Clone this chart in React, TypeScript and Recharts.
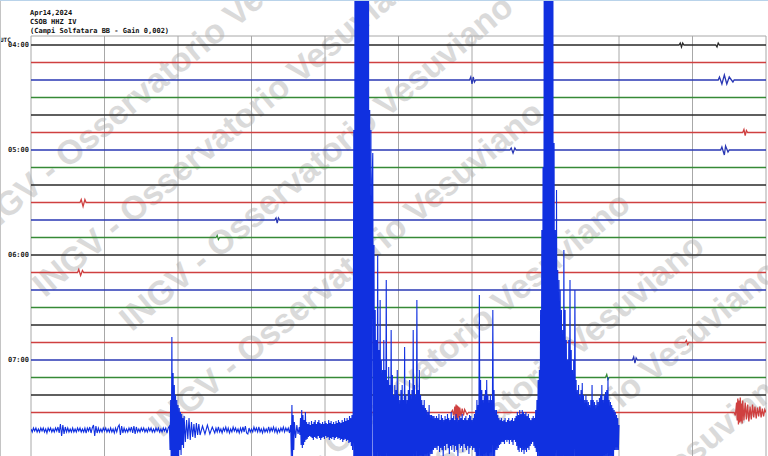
import React from 'react';
import { LineChart, Line, XAxis, YAxis, ReferenceLine } from 'recharts';

// helicorder: 23 rows of 10 minutes, starting 04:00 UTC
const hourLabels = ['04:00', '05:00', '06:00', '07:00'];
const hourTicks = [0, 60, 120, 180];
const rowColors = ['#2a2a2a', '#cf4040', '#2a38b4', '#368a36'];
const lastRowColor = '#1030e0';
const rowCount = 23;
const rowLength = 600; // seconds per row
const gridSeconds = [0, 60, 120, 180, 240, 300, 360, 420, 480, 540, 600];

// small wiggles on the quiet rows: [row, second, amplitude]
const quietBursts: [number, number, number][] = [
  [0, 529, 0], [0, 530, 2], [0, 531, -2], [0, 532, 2], [0, 533, 0],
  [0, 559, 0], [0, 560, -2], [0, 561, 2], [0, 562, 0],
  [2, 358, 0], [2, 359, 3], [2, 360, -4], [2, 361, 3], [2, 362, -2], [2, 363, 0],
  [2, 561, 0], [2, 562, 3], [2, 564, -4], [2, 566, 5], [2, 568, -4], [2, 570, 3], [2, 573, -2], [2, 574, 0],
  [5, 581, 0], [5, 582, 3], [5, 583, -3], [5, 584, 2], [5, 585, 0],
  [6, 391, 0], [6, 392, 2], [6, 393.5, -3], [6, 395, 2], [6, 396, 0],
  [6, 563, 0], [6, 564, 3], [6, 566, -5], [6, 567, 4], [6, 569, -2], [6, 570, 0],
  [9, 40, 0], [9, 41, 3], [9, 42.5, -4], [9, 44, 3], [9, 45, 0],
  [10, 199, 0], [10, 200, 2], [10, 201, -3], [10, 202, 2], [10, 203, 0],
  [11, 151, 0], [11, 152, 2], [11, 153, -2], [11, 154, 0],
  [13, 38, 0], [13, 39, 3], [13, 40.5, -3], [13, 42, 2], [13, 43, 0],
  [17, 534, 0], [17, 535, 2], [17, 536, -2], [17, 537, 0],
  [18, 491, 0], [18, 492, 3], [18, 493, -3], [18, 494, 2], [18, 495, 0],
  [19, 469, 0], [19, 470, 3], [19, 471, -2], [19, 472, 0],
  [21, 343, 0], [21, 344, 2], [21, 345, -3], [21, 346, 6], [21, 346.5, -7], [21, 347, 8], [21, 347.5, -6],
  [21, 348, 7], [21, 348.5, -8], [21, 349, 6], [21, 349.5, -5], [21, 350, 5], [21, 351, -4],
  [21, 352, 4], [21, 353, -3], [21, 354, 3], [21, 356, -2], [21, 357, 0],
  [21, 574, 0], [21, 575, -3], [21, 576, 10], [21, 576.5, -8], [21, 577, 14], [21, 577.5, -12], [21, 578, 12],
  [21, 578.5, -10], [21, 579, 15], [21, 579.5, -9], [21, 580, 9], [21, 580.5, -11], [21, 581, 12],
  [21, 582, -8], [21, 583, 10], [21, 584, -7], [21, 585, 8], [21, 586, -9], [21, 587, 6],
  [21, 588, -7], [21, 589, 8], [21, 590, -5], [21, 591, 6], [21, 592, -6], [21, 593, 5],
  [21, 594, -4], [21, 595, 6], [21, 596, -5], [21, 597, 4], [21, 598, -4], [21, 599, 3],
];

// last row (07:40): single readings [second, amplitude]
const lastRowPoints: [number, number][] = [
  [113, 4], [113.5, -20], [114, 30], [114.5, -40], [115, 93], [115.5, -40], [116, 57], [116.5, -40],
  [117, 45], [117.5, -40], [118, 35], [118.5, -40], [119, 30], [119.5, -30], [120, 25], [120.5, -35],
  [121, 22], [121.5, -20], [122, 18], [122.5, -25], [123, 16], [123.5, -15], [124, 12], [124.5, -18],
  [125, 14], [126, -12], [127, 10], [128, -9], [129, 12], [130, -10], [131, 8], [132, -7], [133, 6],
  [134, -8], [135, 7], [136, -5], [137, 6], [138, -5], [140, 4], [142, -4], [144, 5], [146, -4],
  [148, 3],
  [212, 5], [212.5, -26], [213, 25], [213.5, -26], [214, 15], [214.5, -20], [215, 8], [216, -8],
  [217, 5], [218, -4],
  [263.5, 300], [264, -600], [264.5, 600], [265, -600], [265.5, 600], [266, -600], [266.5, 600],
  [267, -600], [267.5, 600], [268, -600], [268.5, 600], [269, -600], [269.5, 600], [270, -600],
  [270.5, 600], [271, -600], [271.5, 600], [272, -600], [272.5, 600], [273, -600], [273.5, 600],
  [274, -600], [274.5, 600], [275, -600], [275.5, 600], [276, -600], [276.5, 320], [277, -600],
  [277.5, 300], [278, -200], [278.5, 250],
  [414, 50], [414.5, -30], [415, 60], [415.5, -40], [416, 120], [416.5, -60], [417, 200],
  [417.5, -100], [418, 263], [418.5, -200], [419, 600], [419.5, -600], [420, 600], [420.5, -600],
  [421, 600], [421.5, -600], [422, 600], [422.5, -600], [423, 600], [423.5, -600], [424, 600],
  [424.5, -600], [425, 600], [425.5, -600], [426, 600], [426.5, -600],
];

// last row, densely sampled stretches: start second, sample step, amplitudes
const lastRowStretches = [
  {
    t0: 0, dt: 1,
    amps: [
      1, -2, 2, -1, 2, -2, 1, -2, 2, -1, 2, -2, 1, -3, 2, -1, 2, -2, 1, -2,
      2, -1, 3, -3, 6, -6, 5, -4, 3, -2, 2, -2, 1, -2, 2, -2, 1, -2, 2, -1,
      2, -2, 1, -2, 2, -3, 2, -1, 3, -3, 2, 5, -6, 4, -3, 2, -2, 1, -2, 2,
      -1, 2, -2, 1, -2, 2, -2, 1, -3, 2, -2, 3, 5, -5, 4, -3, 2, -2, 1, -2,
      2, -1, 3, -3, 4, -4, 3, -2, 1, -2, 2, -1, 2, -2, 1, -2, 2, -1, 2, -2,
      1, -2, 2, -1, 2, -2, 1, -2, 2, -1, 2, -3, 2,
    ],
  },
  {
    t0: 150, dt: 1,
    amps: [
      -3, 2, -2, 3, -2, 1, -3, 2, -1, 3, -2, 2, -3, 1, -2, 3, -1, 2, -2, 1,
      -3, 2, -2, 3, -2, 4, -3, -4, 2, -2, 1, -2, 3, -1, 2, -2, 3, -2, 1, -3,
      2, -2, 1, -2, 3, -2, 2, -1, 3, -2, 2, -3, 1, -2, 2, -1, 3, -2, 2, -1,
      2, -3,
    ],
  },
  {
    t0: 219, dt: 0.5,
    amps: [
      3, -5, 12, -15, 20, -18, 15, -15, 10, -12, 18, -10, 8, -9, 6, -7, 8, -6, 5, -7,
      9, -8, 6, -10, 8, -7, 10, -8, 6, -9, 8, -6, 10, -8, 7, -10, 6, -8, 8, -7,
      6, -9, 9, -6, 7, -8, 6, -7, 10, -10, 7, -8, 9, -9, 6, -7, 8, -10, 6, -8,
      9, -7, 7, -9, 10, -8, 8, -10, 7, -9, 10, -12, 8, -10, 12, -9, 9, -11, 12, -10,
      10, -13, 14, -12, 12, -16, 15, -20, 20, -25,
    ],
  },
  {
    t0: 279, dt: 0.5,
    amps: [
      277, -40, 185, -40, 120, -40, 90, -40, 175, -40, 80, -40, 130, -40, 70, -40, 60, -40, 90, -40,
      60, -40, 150, -40, 50, -40, 63, -40, 45, -40, 100, -40, 55, -40, 35, -40, 45, -40, 40, -40,
      60, -40, 35, -40, 30, -40, 40, -40, 45, -40, 30, -40, 83, -40, 35, -40, 30, -40, 40, -40,
      50, -40, 35, -35, 40, -35, 100, -35, 45, -35, 35, -35, 130, -35, 40, -35, 60, -30, 35, -30,
      30, -30, 25, -30, 30, -28, 22, -28, 20, -28, 18, -26, 25, -26, 15, -24, 15, -24, 14, -20,
      14, -18, 12, -18,
    ],
  },
  {
    t0: 331, dt: 0.5,
    amps: [
      14, -20, 12, -16, 16, -22, 10, -18, 15, -20, 12, -26, 10, -16, 14, -20, 11, -14, 16, -18,
      12, -24, 10, -16, 18, -20, 12, -15, 14, -22, 10, -16, 16, -20, 12, -26, 10, -14, 14, -18,
      12, -16, 16, -22, 10, -14, 12, -18, 14, -20, 10, -16, 12, -24, 15, -18, 14, -16, 10, -20,
      12, -18, 16, -22, 20, -26, 30, -30, 25, -30, 135, -35, 50, -30, 40, -30, 30, -28, 35, -30,
      40, -28, 50, -30, 35, -30, 30, -26, 35, -28, 30, -26, 120, -30, 40, -26, 20, -20,
    ],
  },
  {
    t0: 380, dt: 0.5,
    amps: [
      20, -20, 15, -18, 12, -15, 10, -14, 12, -12, 9, -12, 10, -14, 12, -10, 8, -12, 10, -10,
      12, -14, 9, -10, 10, -12, 12, -15, 9, -10, 12, -12, 14, -16, 18, -20, 15, -22, 20, -18,
      16, -22, 20, -20, 18, -24, 16, -20, 18, -22, 14, -18, 16, -20, 12, -16, 10, -14, 12, -12,
      14, -16, 12, -18, 20, -22, 30, -26,
    ],
  },
  {
    t0: 427, dt: 0.5,
    amps: [
      287, -45, 200, -45, 240, -45, 160, -45, 150, -45, 140, -45, 120, -45, 100, -45, 180, -45, 120, -45,
      90, -45, 70, -45, 90, -45, 150, -45, 80, -35, 60, -35, 70, -35, 140, -35, 50, -35, 40, -35,
      45, -35, 35, -35, 40, -35, 47, -35, 35, -35, 30, -35, 35, -35, 30, -35, 28, -35, 25, -35,
      30, -35, 45, -35, 30, -35, 28, -35, 25, -35, 30, -35, 28, -35, 32, -35, 35, -35, 45, -30,
      30, -30, 35, -30, 38, -30, 40, -30, 53, -30, 30, -30, 28, -30, 25, -30, 22, -30, 20, -20,
      18, -20, 15, -20, 12, -20, 5,
    ],
  },
];

const headerLines = ['Apr14,2024', 'CSOB HHZ IV', '(Campi Solfatara BB - Gain 0,002)'];
const watermarkText = 'INGV - Osservatorio Vesuviano';

// screen scale: 1.75 px per minute of row offset
const PX_PER_MIN = 1.75;
const Y_MIN = -45 / PX_PER_MIN;
const Y_MAX = Y_MIN + 456 / PX_PER_MIN;
const FRAME_TOP = -9 / PX_PER_MIN;

const lastRowAll: [number, number][] = [
  ...lastRowPoints,
  ...lastRowStretches.flatMap((st) => st.amps.map((a, k) => [st.t0 + k * st.dt, a] as [number, number])),
].sort((p, q) => p[0] - q[0]);

const rows = Array.from({ length: rowCount }, (_, i) => {
  const base = i * 10;
  const big = i === rowCount - 1;
  const pts: [number, number][] = big
    ? lastRowAll
    : [[0, 0], ...quietBursts.filter((b) => b[0] === i).map((b) => [b[1], b[2]] as [number, number]), [rowLength, 0]];
  return {
    key: `row${i}`,
    color: big ? lastRowColor : rowColors[i % 4],
    big,
    data: pts.map(([s, a]) => ({ s, v: base - a / PX_PER_MIN })),
  };
});

const mono = '"DejaVu Sans Mono", "Liberation Mono", monospace';

// watermark rows, start of each text (bottom-left corner)
const watermarks = [
  { x: -16, y: 246 },
  { x: 48, y: 302 },
  { x: 135, y: 336 },
  { x: 165, y: 442 },
  { x: 252, y: 533 },
  { x: 326, y: 575 },
  { x: 400, y: 601 },
  { x: 413, y: 707 },
];

export default function App() {
  return (
    <div style={{ position: 'relative', width: 768, height: 456, background: '#fff', overflow: 'hidden' }}>
      <style>{'body{margin:0}'}</style>
      {watermarks.map((w, i) => (
        <div
          key={i}
          style={{
            position: 'absolute',
            left: w.x,
            top: w.y - 34,
            height: 34,
            lineHeight: '34px',
            fontFamily: '"Liberation Sans", Arial, sans-serif',
            fontWeight: 'bold',
            fontSize: 34,
            color: '#dadada',
            whiteSpace: 'nowrap',
            transformOrigin: '0 100%',
            transform: 'rotate(-40deg)',
          }}
        >
          {watermarkText}
        </div>
      ))}
      <div style={{ position: 'absolute', left: 0, top: 0 }}>
        <LineChart width={768} height={456} margin={{ top: 0, right: 2, bottom: 0, left: 0 }}>
          <XAxis type="number" dataKey="s" domain={[0, rowLength]} hide allowDataOverflow />
          <YAxis
            type="number"
            domain={[Y_MIN, Y_MAX]}
            reversed
            allowDataOverflow
            ticks={hourTicks}
            tickFormatter={(v: number) => hourLabels[hourTicks.indexOf(v)] ?? ''}
            width={31}
            axisLine={false}
            tickLine={false}
            tickSize={0}
            tickMargin={2}
            tick={{ fontSize: 7, fontFamily: mono, fill: '#222', fontWeight: 'bold' }}
          />
          {gridSeconds.map((s) => (
            <ReferenceLine
              key={`g${s}`}
              segment={[{ x: s, y: FRAME_TOP }, { x: s, y: Y_MAX }]}
              stroke="#a8a8a8"
              strokeWidth={1}
            />
          ))}
          <ReferenceLine
            segment={[{ x: 0, y: FRAME_TOP }, { x: rowLength, y: FRAME_TOP }]}
            stroke="#a8a8a8"
            strokeWidth={1}
          />
          {rows.map((r) => (
            <Line
              key={r.key}
              data={r.data}
              dataKey="v"
              type="linear"
              stroke={r.color}
              strokeWidth={r.big ? 1.1 : 1.3}
              dot={false}
              isAnimationActive={false}
            />
          ))}
        </LineChart>
      </div>
      <div style={{ position: 'absolute', left: 30, top: 9, fontFamily: mono, fontSize: 7, fontWeight: 'bold', lineHeight: '9px', color: '#111', whiteSpace: 'pre' }}>
        {headerLines.map((l) => (
          <div key={l}>{l}</div>
        ))}
      </div>
      <div style={{ position: 'absolute', left: 0, top: 36, fontFamily: mono, fontSize: 6, fontWeight: 'bold', color: '#111' }}>UTC</div>
      <div style={{ position: 'absolute', left: 0, top: 0, width: 1, height: 456, background: '#c4c4c4' }} />
      <div style={{ position: 'absolute', left: 0, top: 0, width: 768, height: 1, background: '#b9d3ea' }} />
    </div>
  );
}
